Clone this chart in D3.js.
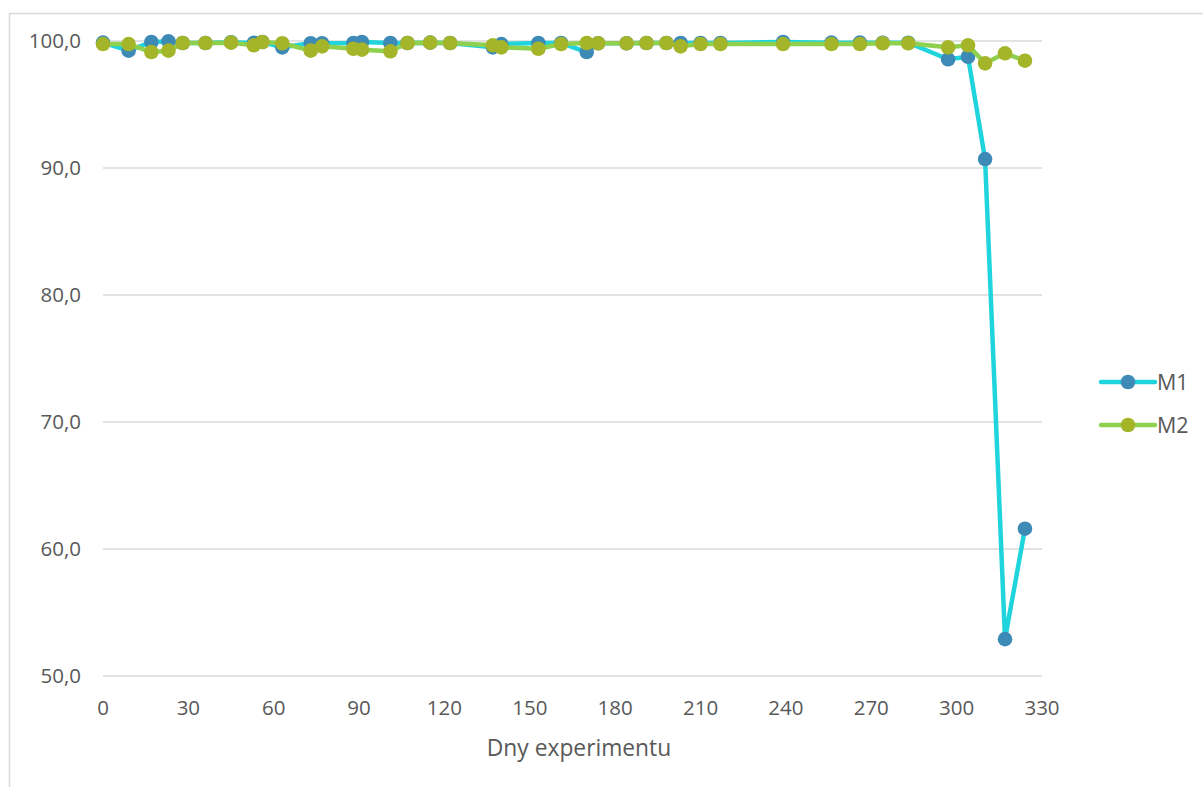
<!DOCTYPE html>
<html><head><meta charset="utf-8">
<script src="https://cdn.jsdelivr.net/npm/d3@7"></script>
<style>body{margin:0;background:#fff}svg{display:block}text{font-family:"Open Sans",sans-serif}</style>
</head><body><svg id="c" width="1203" height="787"></svg>
<script>
const days = [0,9,17,23,28,36,45,53,56,63,73,77,88,91,101,107,115,122,137,140,153,161,170,174,184,191,198,203,210,217,239,256,266,274,283,297,304,310,317,324];
const m1 = [99.87,99.24,99.92,99.97,99.84,99.84,99.9,99.85,99.92,99.5,99.82,99.82,99.84,99.92,99.84,99.84,99.87,99.84,99.5,99.76,99.84,99.84,99.13,99.82,99.82,99.84,99.84,99.84,99.84,99.84,99.92,99.87,99.87,99.86,99.86,98.56,98.76,90.7,52.9,61.6];
const m2 = [99.76,99.76,99.13,99.24,99.84,99.84,99.87,99.66,99.92,99.82,99.24,99.58,99.39,99.32,99.19,99.84,99.87,99.84,99.66,99.5,99.39,99.76,99.84,99.82,99.82,99.84,99.84,99.58,99.76,99.76,99.76,99.76,99.76,99.82,99.82,99.5,99.66,98.24,99.03,98.45];
const xTicks = [0,30,60,90,120,150,180,210,240,270,300,330];
const yTicks = [50,60,70,80,90,100];
const seriesNames = ["M1","M2"];
const xTitle = "Dny experimentu";

const svg = d3.select("#c");
const x = d3.scaleLinear().domain([0,330]).range([103,1042]);
const y = d3.scaleLinear().domain([50,100]).range([676,41]);
const fmt = d => d.toFixed(1).replace(".", ",");

// chart border
svg.append("path").attr("d","M9.5,787 V13.5 H1203").attr("fill","none").attr("stroke","#d9d9d9").attr("stroke-width",1.5);

// gridlines
svg.append("g").selectAll("line").data(yTicks).join("line")
  .attr("x1",x(0)).attr("x2",x(330)).attr("y1",d=>y(d)).attr("y2",d=>y(d))
  .attr("stroke","#d9d9d9").attr("stroke-width",1.5);

// y labels
svg.append("g").selectAll("text").data(yTicks).join("text")
  .attr("x",81).attr("y",d=>y(d)).attr("dy","0.35em").attr("text-anchor","end")
  .attr("fill","#595959").attr("font-size",20.5).text(fmt);

// x labels
svg.append("g").selectAll("text").data(xTicks).join("text")
  .attr("x",d=>x(d)).attr("y",708).attr("dy","0.35em").attr("text-anchor","middle")
  .attr("fill","#595959").attr("font-size",20.5).text(d=>d);

svg.append("text").attr("x",579).attr("y",748).attr("dy","0.35em").attr("text-anchor","middle")
  .attr("fill","#595959").attr("font-size",22.8).text(xTitle);

const series = [
  {name:seriesNames[0], vals:m1, line:"#20d4dd", mark:"#3e8ab7"},
  {name:seriesNames[1], vals:m2, line:"#8fd14f", mark:"#a5b529"}
];
const lineGen = d3.line().x(d=>x(d[0])).y(d=>y(d[1]));
series.forEach(s=>{
  const pts = days.map((d,i)=>[d,s.vals[i]]);
  svg.append("path").datum(pts).attr("d",lineGen).attr("fill","none")
    .attr("stroke",s.line).attr("stroke-width",4.5).attr("stroke-linejoin","round").attr("stroke-linecap","round");
  svg.append("g").selectAll("circle").data(pts).join("circle")
    .attr("cx",d=>x(d[0])).attr("cy",d=>y(d[1])).attr("r",7.3).attr("fill",s.mark);
});

// legend
const lg = svg.append("g");
series.forEach((s,i)=>{
  const ly = 382 + i*43;
  lg.append("line").attr("x1",1101).attr("x2",1155).attr("y1",ly).attr("y2",ly)
    .attr("stroke",s.line).attr("stroke-width",4.5).attr("stroke-linecap","round");
  lg.append("circle").attr("cx",1128).attr("cy",ly).attr("r",7.3).attr("fill",s.mark);
  lg.append("text").attr("x",1157).attr("y",ly).attr("dy","0.35em").attr("fill","#595959")
    .attr("font-size",21.5).text(s.name);
});
</script></body></html>
